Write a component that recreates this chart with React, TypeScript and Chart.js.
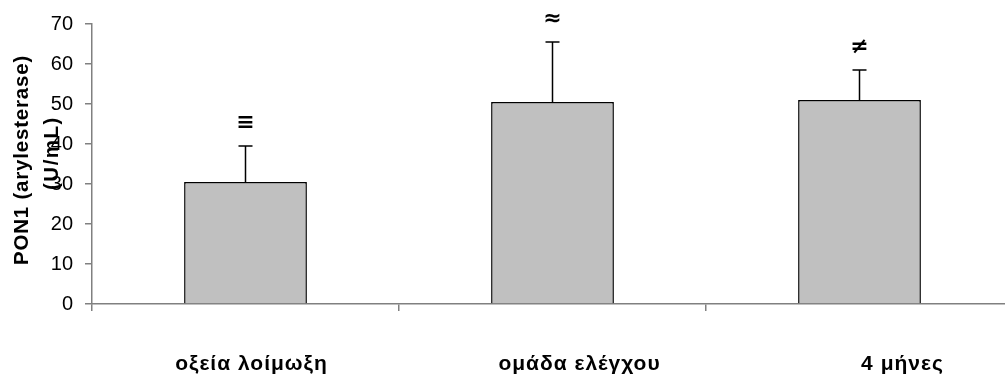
import React, { useEffect, useRef } from "react";
import { Chart, registerables } from "chart.js";

Chart.register(...registerables);

const categories = ["οξεία λοίμωξη", "ομάδα ελέγχου", "4 μήνες"];
const meanValues = [30.5, 50.5, 51.0];
const errorValues = [9.0, 15.0, 7.5];
const markers = ["≡", "≈", "≠"];
const yMin = 0;
const yMax = 70;
const yStep = 10;
const yTitleLines = ["PON1 (arylesterase)", "(U/mL)"];

const FONT = "'Liberation Sans', Arial, sans-serif";
// horizontal nudge of each category label from its category centre (style only)
const labelShift = [6, 27, 43];

const extrasPlugin = {
  id: "extras",
  afterDatasetsDraw(chart: any) {
    const ctx = chart.ctx;
    const meta = chart.getDatasetMeta(0);
    const yScale = chart.scales.y;
    const xScale = chart.scales.x;
    ctx.save();
    meta.data.forEach((bar: any, i: number) => {
      const x = bar.x;
      const yTop = yScale.getPixelForValue(meanValues[i]);
      const yErr = yScale.getPixelForValue(meanValues[i] + errorValues[i]);
      ctx.strokeStyle = "#000";
      ctx.lineWidth = 1.5;
      ctx.beginPath();
      ctx.moveTo(x, yTop);
      ctx.lineTo(x, yErr);
      ctx.moveTo(x - 7, yErr);
      ctx.lineTo(x + 7, yErr);
      ctx.stroke();
      ctx.fillStyle = "#000";
      ctx.font = `bold 22px 'DejaVu Sans', ${FONT}`;
      ctx.textAlign = "center";
      ctx.textBaseline = "middle";
      ctx.fillText(markers[i], x, yErr - 23);
    });
    // category labels
    ctx.font = `bold 21px ${FONT}`;
    (ctx as any).letterSpacing = "1px";
    ctx.textAlign = "center";
    ctx.textBaseline = "alphabetic";
    ctx.fillStyle = "#000";
    categories.forEach((c, i) => {
      const cx = xScale.getPixelForValue(i) + labelShift[i];
      ctx.fillText(c, cx, 370);
    });
    (ctx as any).letterSpacing = "0px";
    ctx.restore();
  },
  afterDraw(chart: any) {
    const ctx = chart.ctx;
    ctx.save();
    ctx.fillStyle = "#000";
    ctx.font = `bold 20.5px ${FONT}`;
    ctx.textAlign = "center";
    ctx.textBaseline = "alphabetic";
    const baselines = [28, 58];
    const centers = [160, 153];
    const spacing = ["0.8px", "1.5px"];
    yTitleLines.forEach((line, i) => {
      ctx.save();
      (ctx as any).letterSpacing = spacing[i];
      ctx.translate(baselines[i], centers[i]);
      ctx.rotate(-Math.PI / 2);
      ctx.fillText(line, 0, 0);
      ctx.restore();
    });
    ctx.restore();
  },
};

export default function App() {
  const ref = useRef<HTMLCanvasElement | null>(null);
  useEffect(() => {
    if (!ref.current) return;
    const chart = new Chart(ref.current, {
      type: "bar",
      data: {
        labels: categories,
        datasets: [
          {
            data: meanValues,
            backgroundColor: "#c0c0c0",
            borderColor: "#000",
            borderWidth: 1.5,
            barPercentage: 0.4,
            categoryPercentage: 1.0,
          },
        ],
      },
      options: {
        animation: false,
        responsive: false,
        maintainAspectRatio: false,
        layout: { padding: { top: 21, left: 0, right: 0, bottom: 0 } },
        plugins: {
          legend: { display: false },
          tooltip: { enabled: false },
          title: { display: false },
        },
        scales: {
          x: {
            offset: true,
            grid: {
              offset: true,
              drawOnChartArea: false,
              drawTicks: true,
              tickLength: 7,
              color: "#808080",
              lineWidth: 1.5,
            },
            border: { display: true, color: "#808080", width: 1.5 },
            ticks: {
              display: false,
            },
            afterFit: (s: any) => {
              s.height = 77;
            },
          },
          y: {
            min: yMin,
            max: yMax,
            grid: {
              drawOnChartArea: false,
              drawTicks: true,
              tickLength: 7,
              color: "#808080",
              lineWidth: 1.5,
            },
            border: { display: true, color: "#808080", width: 1.5 },
            ticks: {
              stepSize: yStep,
              color: "#000",
              font: { family: FONT, size: 20 },
              padding: 12,
            },
            afterFit: (s: any) => {
              s.width = 92;
            },
          },
        },
      },
      plugins: [extrasPlugin],
    });
    return () => chart.destroy();
  }, []);
  return (
    <div
      style={{
        position: "fixed",
        left: 0,
        top: 0,
        width: 1005,
        height: 381,
        overflow: "hidden",
        background: "#fff",
      }}
    >
      <canvas ref={ref} width={1013} height={381} style={{ display: "block" }} />
    </div>
  );
}
